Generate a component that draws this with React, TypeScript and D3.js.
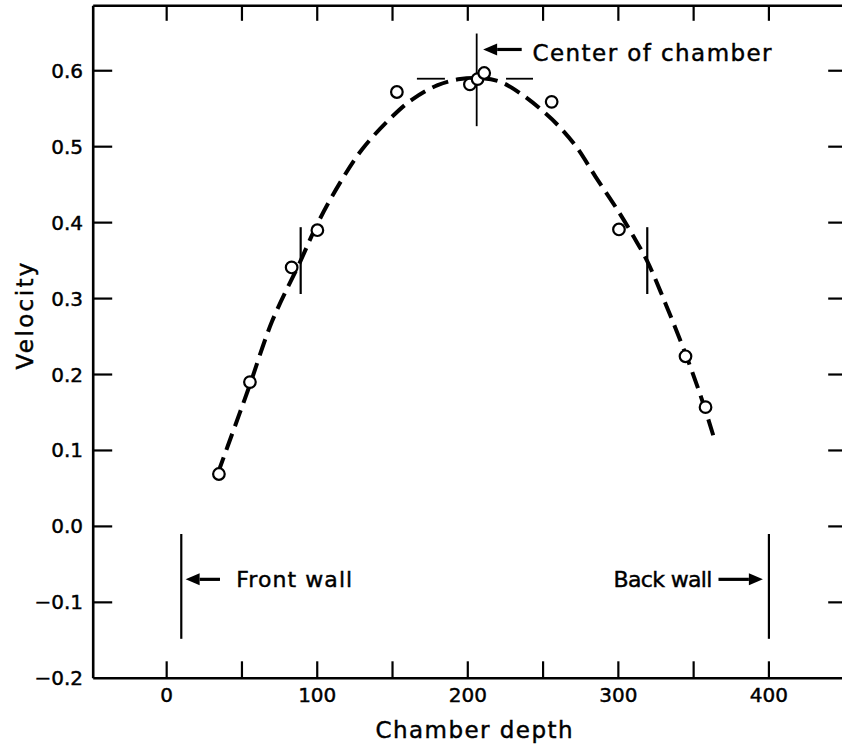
import React from 'react';
import * as d3 from 'd3';

const W = 842;
const H = 752;

// Axis ticks
const depthTicks = [0, 50, 100, 150, 200, 250, 300, 350, 400];
const depthLabels = [0, 100, 200, 300, 400];
const velocityTicks = [-0.1, 0, 0.1, 0.2, 0.3, 0.4, 0.5, 0.6];
const velocityLabels = [-0.2, -0.1, 0, 0.1, 0.2, 0.3, 0.4, 0.5, 0.6];

// Observed points
const obsDepth = [34.7, 55.3, 83.0, 100.1, 152.9, 201.4, 206.5, 210.9, 255.7, 300.4, 344.6, 357.9];
const obsVelocity = [0.069, 0.19, 0.341, 0.39, 0.572, 0.582, 0.589, 0.597, 0.559, 0.391, 0.224, 0.157];

// Fitted (dashed) curve
const fitDepth = [34, 45, 55, 70, 89, 100, 115, 130, 150, 163, 180, 195, 210, 222, 235, 248, 260, 272, 285, 300, 310, 319, 332, 345, 355, 363];
const fitVelocity = [0.07, 0.13, 0.185, 0.27, 0.35, 0.398, 0.452, 0.497, 0.54, 0.562, 0.581, 0.589, 0.59, 0.585, 0.57, 0.55, 0.528, 0.5, 0.46, 0.415, 0.382, 0.35, 0.29, 0.225, 0.17, 0.12];

// Annotations
const centerDepth = 205.9;
const wallDepths = [9.7, 400];
const spreadMarksDepth = [89.0, 319.2];

const FONT = '"DejaVu Sans", sans-serif';

const fmt = (v: number) => {
  const s = Math.abs(v).toFixed(1);
  return v < -1e-9 ? '\u2212' + s : s;
};

const textStyle = { stroke: '#000', strokeWidth: 0.45 };

export default function App() {
  const x = d3.scaleLinear().domain([-48.8, 450]).range([93.2, 844.2]);
  const y = d3.scaleLinear().domain([-0.2, 0.6855]).range([678.3, 5.8]);
  const [x0, x1] = x.range();
  const [y0, y1] = y.range();

  const line = d3
    .line<number>()
    .x((_, i) => x(fitDepth[i]))
    .y((_, i) => y(fitVelocity[i]))
    .curve(d3.curveCatmullRom.alpha(0.5));

  const arrow = (tipX: number, tailX: number, yy: number) => {
    const dir = tailX > tipX ? 1 : -1;
    const headLen = 14;
    const hw = 6;
    const base = tipX + dir * headLen;
    return (
      <g>
        <line x1={base} x2={tailX} y1={yy} y2={yy} stroke="#000" strokeWidth={3.2} />
        <polygon points={`${tipX},${yy} ${base},${yy - hw} ${base},${yy + hw}`} fill="#000" />
      </g>
    );
  };

  return (
    <svg
      width={W}
      height={H}
      style={{ position: 'absolute', left: 0, top: 0, background: '#fff' }}
      fontFamily={FONT}
    >
      <rect x={0} y={0} width={W} height={H} fill="#fff" />
      {/* frame */}
      <line x1={x0} x2={x0} y1={y1} y2={y0} stroke="#000" strokeWidth={2.6} />
      <line x1={x0} x2={x1} y1={y0} y2={y0} stroke="#000" strokeWidth={2.6} />
      <line x1={x0} x2={x1} y1={y1} y2={y1} stroke="#000" strokeWidth={2.6} />
      <line x1={x1} x2={x1} y1={y1} y2={y0} stroke="#000" strokeWidth={2.6} />

      {/* x ticks bottom & top */}
      {depthTicks.map((t) => (
        <g key={'xt' + t}>
          <line x1={x(t)} x2={x(t)} y1={y0} y2={y0 - 17} stroke="#000" strokeWidth={2.2} />
          <line x1={x(t)} x2={x(t)} y1={y1} y2={y1 + 15} stroke="#000" strokeWidth={2.2} />
        </g>
      ))}
      {depthLabels.map((t) => (
        <text key={'xl' + t} x={x(t)} y={y0 + 24} fontSize={20} textAnchor="middle" style={textStyle}>
          {t}
        </text>
      ))}

      {/* y ticks left & right */}
      {velocityTicks.map((t) => (
        <g key={'yt' + t}>
          <line x1={x0} x2={x0 + 19} y1={y(t)} y2={y(t)} stroke="#000" strokeWidth={2.2} />
          <line x1={x1} x2={x1 - 16} y1={y(t)} y2={y(t)} stroke="#000" strokeWidth={2.2} />
        </g>
      ))}
      {velocityLabels.map((t) => (
        <text key={'yl' + t} x={83} y={y(t) + 7} fontSize={20} textAnchor="end" style={textStyle}>
          {fmt(t)}
        </text>
      ))}

      {/* axis titles */}
      <text x={474} y={738} fontSize={23} textAnchor="middle" textLength={197} lengthAdjust="spacing" style={textStyle}>
        Chamber depth
      </text>
      <text
        transform={`translate(33,316) rotate(-90)`}
        fontSize={23}
        textAnchor="middle"
        textLength={107}
        lengthAdjust="spacing"
        style={textStyle}
      >
        Velocity
      </text>

      {/* walls */}
      {wallDepths.map((d) => (
        <line key={'w' + d} x1={x(d)} x2={x(d)} y1={y(-0.01)} y2={y(-0.148)} stroke="#000" strokeWidth={2.2} />
      ))}
      {arrow(x(12.6), x(35.4), y(-0.0697))}
      <text x={x(46.2)} y={y(-0.0697) + 8} fontSize={22} textLength={116} lengthAdjust="spacing" style={textStyle}>
        Front wall
      </text>
      {arrow(x(396), x(366.5), y(-0.0697))}
      <text x={x(362.5)} y={y(-0.0697) + 8} fontSize={22} textAnchor="end" textLength={99} lengthAdjust="spacing" style={textStyle}>
        Back wall
      </text>

      {/* center of chamber */}
      <line x1={x(centerDepth)} x2={x(centerDepth)} y1={y(0.649)} y2={y(0.527)} stroke="#000" strokeWidth={1.8} />
      <line x1={x(166.2)} x2={x(184.8)} y1={y(0.5895)} y2={y(0.5895)} stroke="#000" strokeWidth={1.8} />
      <line x1={x(225.4)} x2={x(243.3)} y1={y(0.5895)} y2={y(0.5895)} stroke="#000" strokeWidth={1.8} />
      {arrow(x(210.2), x(235.8), y(0.628))}
      <text x={x(243)} y={y(0.6125)} fontSize={23} textLength={239} lengthAdjust="spacing" style={textStyle}>
        Center of chamber
      </text>

      {/* spread marks */}
      {spreadMarksDepth.map((d) => (
        <line key={'s' + d} x1={x(d)} x2={x(d)} y1={y(0.394)} y2={y(0.306)} stroke="#000" strokeWidth={2.2} />
      ))}

      {/* fitted curve */}
      <path d={line(fitDepth) || ''} fill="none" stroke="#000" strokeWidth={4} strokeDasharray="17 8" />

      {/* points */}
      {obsDepth.map((d, i) => (
        <circle key={'p' + i} cx={x(d)} cy={y(obsVelocity[i])} r={5.8} fill="#fff" stroke="#000" strokeWidth={2.2} />
      ))}
    </svg>
  );
}
